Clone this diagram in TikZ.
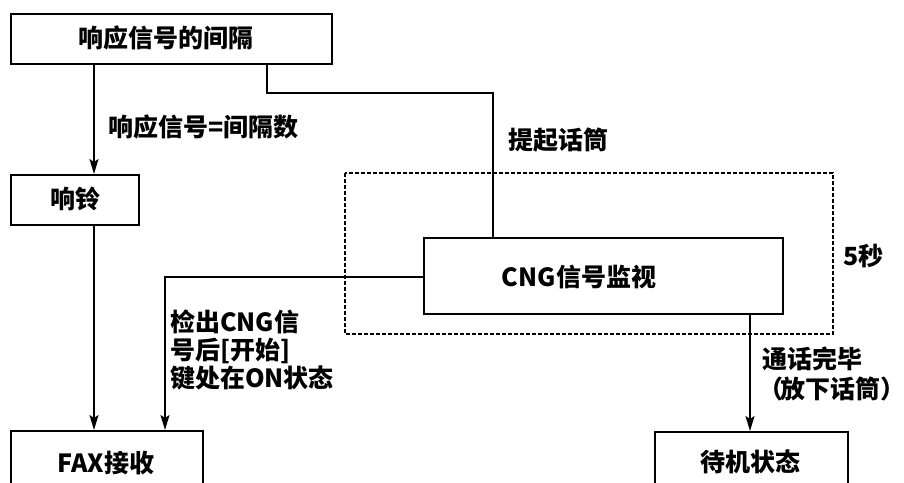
\documentclass[tikz,border=0pt]{standalone}
\usepackage{fontspec}
\setmainfont{Noto Sans CJK SC}
\usetikzlibrary{arrows.meta}
\tikzset{
  box/.style={draw=black, line width=1.7pt, fill=white, inner sep=0pt, anchor=north west},
  lbl/.style={inner sep=0pt, anchor=west, align=left},
  conn/.style={line width=1.7pt},
  arr/.style={conn, -{Stealth[length=15pt, width=9pt, inset=3pt]}},
  dashbox/.style={draw=black, line width=1.4pt, dash pattern=on 4pt off 2pt},
}
\begin{document}
\begin{tikzpicture}[x=1pt, y=-1pt, font=\fontsize{25}{30}\selectfont\bfseries]
\useasboundingbox[fill=white] (0,0) rectangle (904,482);
% dashed region
\draw[dashbox] (345,173) rectangle (833,334);
% boxes
\node[box, minimum width=321pt, minimum height=50pt] (top) at (10,13) {};
\node at (166,38) {响应信号的间隔};
\node[box, minimum width=128pt, minimum height=50pt] (ring) at (10,174) {};
\node at (75,199) {响铃};
\node[box, minimum width=359pt, minimum height=76pt] (cng) at (423,237) {};
\node at (579,277) {CNG信号监视};
\node[box, minimum width=192pt, minimum height=66pt] (fax) at (10,430) {};
\node at (106,463) {FAX接收};
\node[box, minimum width=193pt, minimum height=66pt] (wait) at (654,431) {};
\node at (750,462) {待机状态};
% named bend points
\coordinate (b1) at (267,93);
\coordinate (b2) at (493,93);
\coordinate (b3) at (165,277);
% connectors
\draw[arr] (top.south -| 94,0) -- (ring.north -| 94,0);
\draw[arr] (ring.south -| 94,0) -- (fax.north -| 94,0);
\draw[conn] (top.south -| b1) -- (b1) -- (b2) -- (cng.north -| b2);
\draw[arr] (cng.west |- b3) -- (b3) -- (fax.north -| b3);
\draw[arr] (cng.south -| 750,0) -- (wait.north -| 750,0);
% labels
\node[lbl] (l1) at (108,127) {响应信号=间隔数};
\node[lbl] (l2) at (508,140) {提起话筒};
\node[lbl] (l3) at (843,256) {5秒};
\node[lbl, anchor=north west] (l4) at (170,310) {检出CNG信\\[-2pt]号后[开始]\\[-2pt]键处在ON状态};
\node[lbl, anchor=north west] (l5) at (762,347) {通话完毕\\[0pt]\kern-4pt（\kern-3pt 放下话筒）\kern-16pt};
\end{tikzpicture}
\end{document}
